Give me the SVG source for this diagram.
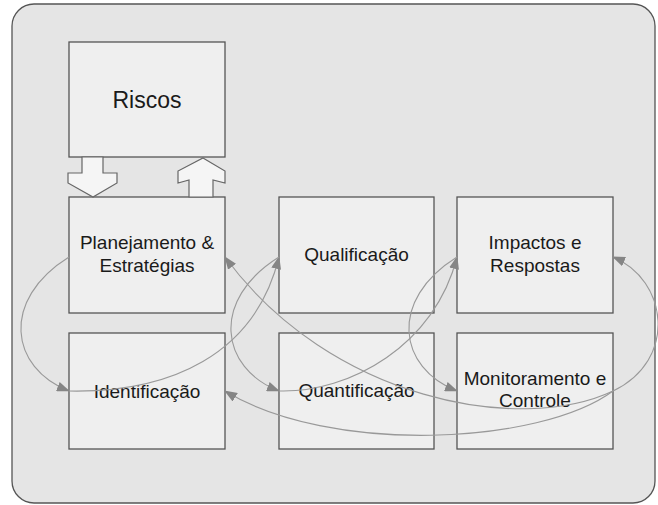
<svg xmlns="http://www.w3.org/2000/svg" width="658" height="505" viewBox="0 0 658 505">
<defs>
<style>
.box{fill:#efefef;stroke:#555;stroke-width:1.3}
.lbl{font-family:"Liberation Sans",Arial,sans-serif;font-size:19px;fill:#1a1a1a;text-anchor:middle}
.big{font-size:23px}
.con{fill:none;stroke:#999;stroke-width:1.1}
.blk{fill:#f5f5f5;stroke:#666;stroke-width:1.2;stroke-linejoin:miter}
</style>
<marker id="ah" markerWidth="13" markerHeight="10" refX="12" refY="5" orient="auto" markerUnits="userSpaceOnUse">
<path d="M0,0 L13,5 L0,10 Z" fill="#858585"/>
</marker>
</defs>
<rect x="0" y="0" width="658" height="505" fill="#fff"/>
<rect id="frame" x="12" y="4" width="643" height="499" rx="22" ry="22" fill="#e5e5e5" stroke="#555" stroke-width="1.3"/>

<g id="riscos">
<rect class="box" x="69" y="42" width="156" height="115"/>
<text class="lbl big" x="147" y="108">Riscos</text>
</g>
<g id="planejamento">
<rect class="box" x="69" y="197" width="156" height="116"/>
<text class="lbl" x="147" y="249">Planejamento &amp;</text>
<text class="lbl" x="147" y="272">Estratégias</text>
</g>
<g id="identificacao">
<rect class="box" x="69" y="333" width="156" height="116"/>
<text class="lbl" x="147" y="398">Identificação</text>
</g>
<g id="qualificacao">
<rect class="box" x="279" y="197" width="155" height="116"/>
<text class="lbl" x="356.5" y="261">Qualificação</text>
</g>
<g id="quantificacao">
<rect class="box" x="279" y="333" width="155" height="116"/>
<text class="lbl" x="356.5" y="397">Quantificação</text>
</g>
<g id="impactos">
<rect class="box" x="457" y="197" width="156" height="116"/>
<text class="lbl" x="535" y="249">Impactos e</text>
<text class="lbl" x="535" y="272">Respostas</text>
</g>
<g id="monitoramento">
<rect class="box" x="457" y="333" width="156" height="116"/>
<text class="lbl" x="535" y="385">Monitoramento e</text>
<text class="lbl" x="535" y="407">Controle</text>
</g>

<g id="connectors">
<polygon class="blk" points="82,157 103,157 103,173 117,173 117,183 93,197 68,183 68,173 82,173"/>
<polygon class="blk" points="203,158 225,171 225,183 213,180 213,197 189,197 189,180 178,183 178,171"/>
<path class="con" marker-end="url(#ah)" d="M69,257 C0,300 10,368 69,391"/>
<path class="con" marker-end="url(#ah)" d="M69,391 C170,393 255,355 279,257"/>
<path class="con" marker-end="url(#ah)" d="M279,257 C210,300 220,368 279,391"/>
<path class="con" marker-end="url(#ah)" d="M279,391 C350,393 435,345 457,257"/>
<path class="con" marker-end="url(#ah)" d="M457,257 C388,300 398,368 457,391"/>
<path class="con" marker-end="url(#ah)" d="M613,391 C678,360 668,280 613,257"/>
<path class="con" marker-end="url(#ah)" d="M613,391 C520,435 330,400 225,257"/>
<path class="con" marker-end="url(#ah)" d="M613,391 C540,445 330,455 225,391"/>
</g>
</svg>
